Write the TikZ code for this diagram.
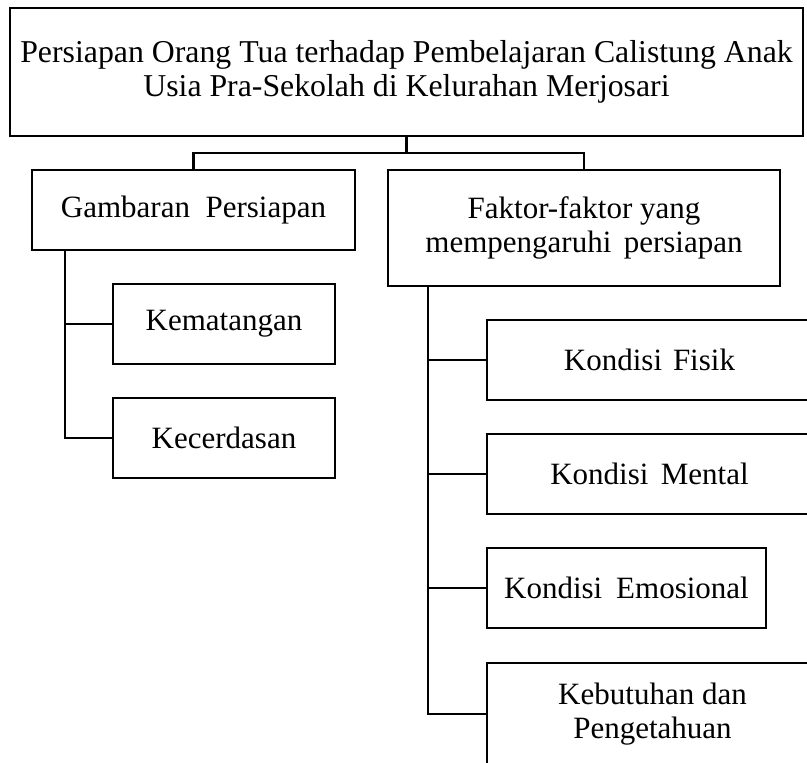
\documentclass[tikz,border=0pt]{standalone}
\usepackage{fontspec}
\setmainfont{Liberation Serif}
\begin{document}
\begin{tikzpicture}[x=1pt,y=-1pt,
  box/.style={draw=black,line width=2.8pt,rectangle,inner sep=0pt,align=center,
    font=\fontsize{31}{34}\selectfont},
  conn/.style={draw=black,line width=2.8pt}]
\useasboundingbox (0,0) rectangle (807,763);
\node[box,minimum width=793pt,minimum height=128pt,font=\fontsize{31.8}{33.5}\selectfont] (top) at (406.5,72) {Persiapan Orang Tua terhadap Pembelajaran Calistung Anak\\Usia Pra-Sekolah di Kelurahan Merjosari};
\node[box,minimum width=323pt,minimum height=80pt] (gam) at (193.5,210) {Gambaran\hspace{0.5em}Persiapan};
\node[box,minimum width=392pt,minimum height=116pt] (fak) at (584,228) {Faktor-faktor yang\\mempengaruhi\hspace{0.4em}persiapan};
\node[box,minimum width=222pt,minimum height=80pt] (kem) at (224,324) {Kematangan};
\node[box,minimum width=222pt,minimum height=80pt] (kec) at (224,438) {Kecerdasan};
\node[box,minimum width=325pt,minimum height=80pt] (fis) at (649.5,360) {Kondisi\hspace{0.35em}Fisik};
\node[box,minimum width=325pt,minimum height=80pt] (men) at (649.5,474) {Kondisi\hspace{0.4em}Mental};
\node[box,minimum width=279pt,minimum height=80pt] (emo) at (626.5,588) {Kondisi\hspace{0.45em}Emosional};
\node[box,minimum width=331pt,minimum height=102pt] (keb) at (652.5,714) {Kebutuhan dan\\Pengetahuan};
\coordinate (bus) at (406.5,153);
\coordinate (ltop) at (65,250);
\coordinate (rtop) at (428,286);
\draw[conn] (top.south) -- (bus);
\draw[conn] (gam.north) |- (bus) -| (fak.north);
\draw[conn] (ltop) |- (kec.west);
\draw[conn] (kem.west) -- (kem.west -| ltop);
\draw[conn] (rtop) |- (keb.west);
\draw[conn] (fis.west) -- (fis.west -| rtop);
\draw[conn] (men.west) -- (men.west -| rtop);
\draw[conn] (emo.west) -- (emo.west -| rtop);
\end{tikzpicture}
\end{document}
